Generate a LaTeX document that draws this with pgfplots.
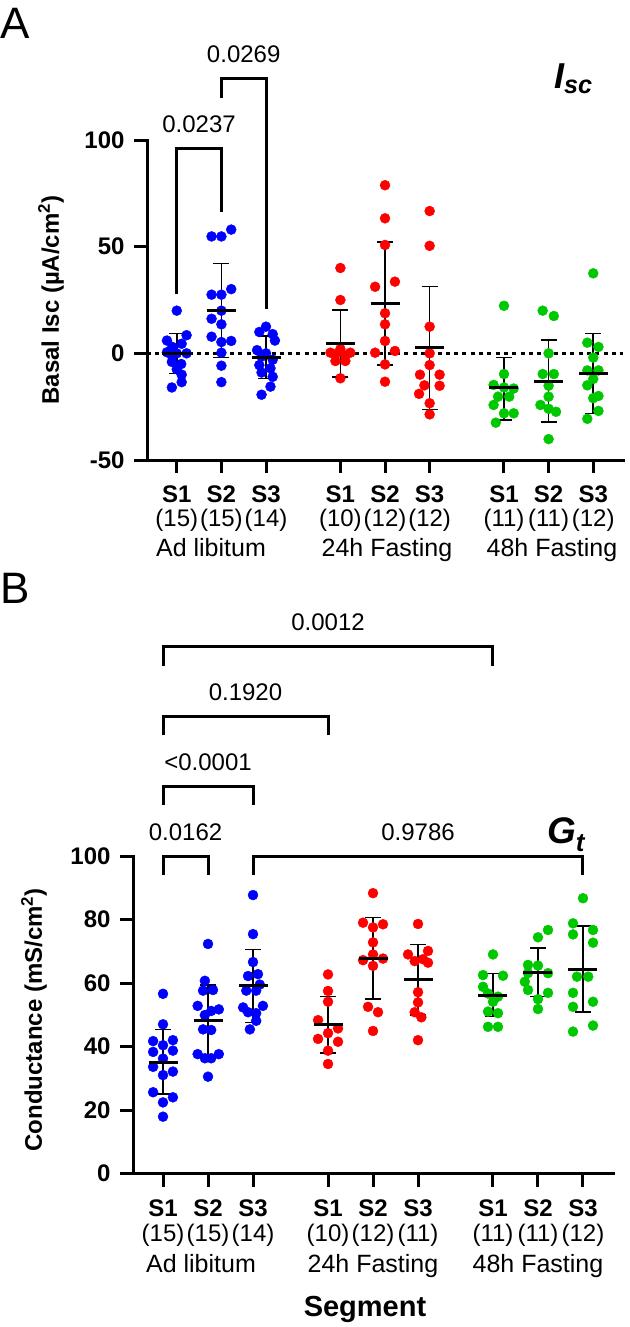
\documentclass[border=0pt]{standalone}
\usepackage{pgfplots}
\pgfplotsset{compat=1.18}
\usepackage{fontspec}
\setmainfont{Liberation Sans}
\definecolor{dblue}{RGB}{0,0,255}
\definecolor{dred}{RGB}{255,0,0}
\definecolor{dgreen}{RGB}{0,200,0}
\pgfplotsset{
  gp/.style={
    scale only axis,
    axis x line*=bottom, axis y line*=left,
    axis line style={-, line width=3pt, line cap=rect},
    xmin=0.333, xmax=11,
    xtick={1,2,3,4.667,5.667,6.667,8.333,9.333,10.333},
    tick align=outside,
    major tick length=13pt,
    every tick/.style={line width=3pt, black},
    tick label style={font=\fontsize{24}{24.5}\selectfont},
    xticklabel style={align=center},
    yticklabel style={font=\bfseries\fontsize{24}{23}\selectfont, xshift=-6pt},
    clip=false,
  },
  dots/.style={only marks, mark=*, mark size=5pt, mark options={draw=#1, fill=#1}},
  meanerr/.style={only marks, black, line width=3pt, mark=-, mark size=14.5pt,
    mark options={line width=3pt},
    error bars/.cd, y dir=both, y explicit,
    error bar style={line width=1.5pt, black},
    error mark options={rotate=90, mark size=8pt, line width=1.5pt, black}},
}
\begin{document}
\begin{tikzpicture}
\useasboundingbox (0pt,0pt) rectangle (629pt,-1327pt);

% ---------------- Panel A ----------------
\begin{axis}[gp, at={(147pt,-460pt)}, anchor=south west, width=476pt, height=320pt,
  ymin=-50, ymax=100, ytick={-50,0,50,100}, yticklabels={-50,0,50,100},
  xticklabel style={yshift=-9pt},
  xticklabels={{\textbf{S1}\\(15)},{\textbf{S2}\\(15)},{\textbf{S3}\\(14)},
               {\textbf{S1}\\(10)},{\textbf{S2}\\(12)},{\textbf{S3}\\(12)},
               {\textbf{S1}\\(11)},{\textbf{S2}\\(11)},{\textbf{S3}\\(12)}}]
\draw[line width=3pt, dash pattern=on 4pt off 4.3pt] (axis cs:0.333,0) -- (axis cs:11,0);
\addplot[dots=dblue] coordinates {
 (1,20) (1.22,8.5) (0.78,6) (1.11,4.5) (0.9,3) (0.78,0.5) (1.0,0) (1.22,0) (0.9,-1.5)
 (0.89,-4) (1.1,-5) (1.11,-10) (1.0,-7.5) (1.11,-13.5) (0.89,-16)
 (1.78,54.8) (2.0,54.8) (2.22,58) (1.78,27.5) (2.0,27.5) (2.22,30.1) (2.0,20) (1.78,16.2)
 (2.0,13.6) (1.78,7.8) (2.0,5.3) (2.22,5.8) (2.0,0.3) (2.0,-5.8) (2.0,-13.5)
 (3.0,12.5) (2.85,10) (3.15,9) (3.2,6) (2.8,1.5) (3.0,0) (2.9,-1.5) (3.15,-3) (2.85,-5.5)
 (3.1,-7) (2.9,-9) (3.15,-11) (3.1,-15.6) (2.9,-19.4)
};
\addplot[dots=dred] coordinates {
 (4.667,40) (4.667,25) (4.667,2) (4.445,0.3) (4.889,0.3) (4.556,-0.5) (4.778,-1)
 (4.556,-3.6) (4.778,-3.6) (4.667,-11.7)
 (5.667,78.8) (5.667,63.3) (5.667,50.8) (5.445,31.2) (5.889,33.6) (5.667,18.8) (5.667,13.6)
 (5.667,5.8) (5.445,0.3) (5.889,1.1) (5.667,-5.2) (5.667,-13.3)
 (6.667,66.7) (6.667,50.4) (6.667,12.5) (6.667,0) (6.667,-5.5) (6.45,-10) (6.89,-10)
 (6.89,-15.2) (6.43,-19) (6.667,-23.4) (6.667,-28.6) (6.55,-15)
};
\addplot[dots=dgreen] coordinates {
 (8.333,22.3) (8.333,-9.7) (8.1,-14.8) (8.55,-16.5) (8.2,-20.3) (8.45,-20.3) (8.1,-24.2)
 (8.333,-28.1) (8.55,-28.1) (8.15,-32.5) (8.333,-16)
 (9.2,20) (9.45,17.5) (9.333,0) (9.2,-9.7) (9.45,-9.7) (9.333,-15.2) (9.333,-20.3)
 (9.15,-24.2) (9.5,-27.4) (9.333,-26) (9.333,-40.2)
 (10.333,37.5) (10.2,5) (10.45,3) (10.333,-2) (10.2,-8) (10.45,-8) (10.333,-12)
 (10.2,-15) (10.45,-20) (10.333,-21) (10.45,-27) (10.2,-30.7)
};
\addplot[meanerr] coordinates {
 (1,0) += (0,9.4) -= (0,9.4)
 (2,20.3) += (0,21.9) -= (0,22.3)
 (3,-2) += (0,10.1) -= (0,9.7)
 (4.667,4.7) += (0,15.6) -= (0,15.7)
 (5.667,23.4) += (0,28.9) -= (0,28.9)
 (6.667,2.6) += (0,28.8) -= (0,28.9)
 (8.333,-16.1) += (0,14.2) -= (0,15.2)
 (9.333,-13) += (0,19.2) -= (0,19.3)
 (10.333,-9.5) += (0,18.8) -= (0,18.6)
};
\draw[line width=3pt, line join=miter] (axis cs:1,28) |- (axis cs:2,96.1) -- (axis cs:2,66.4);
\draw[line width=3pt, line join=miter] (axis cs:2,119.5) |- (axis cs:3,128.9) -- (axis cs:3,20.8);
\node[anchor=base, yshift=16pt, font=\fontsize{24}{24}\selectfont] at (axis cs:1.5,96.1) {0.0237};
\node[anchor=base, yshift=16pt, font=\fontsize{24}{24}\selectfont] at (axis cs:2.5,128.9) {0.0269};
\end{axis}

% ---------------- Panel B ----------------
\begin{axis}[gp, at={(133pt,-1173.5pt)}, anchor=south west, width=480pt, height=317.5pt,
  ymin=0, ymax=100, ytick={0,20,40,60,80,100}, yticklabels={0,20,40,60,80,100},
  xticklabel style={yshift=-10pt},
  xticklabels={{\textbf{S1}\\(15)},{\textbf{S2}\\(15)},{\textbf{S3}\\(14)},
               {\textbf{S1}\\(10)},{\textbf{S2}\\(12)},{\textbf{S3}\\(11)},
               {\textbf{S1}\\(11)},{\textbf{S2}\\(11)},{\textbf{S3}\\(12)}}]
\addplot[dots=dblue] coordinates {
 (1,56.6) (1,47) (0.78,41.7) (1.22,42) (1,40.4) (0.78,38.3) (1.22,38.7) (1,36.2)
 (0.78,33.6) (1.22,32.1) (1,31) (0.78,25.6) (1.22,24) (1,22.4) (1,17.9)
 (2,72.3) (1.93,60.7) (2.11,57.8) (1.89,57.6) (1.77,52.8) (2.24,51.7) (2.07,51.2) (1.93,49.9)
 (2.07,45.2) (1.89,45.4) (1.77,37.6) (2.24,37.6) (1.93,36.3) (2.07,36.3) (2,30.5)
 (3,87.7) (3,75.4) (3,66.6) (2.89,62.2) (3.11,62.8) (3.15,59.5) (2.85,57.6) (3.07,57.6)
 (2.78,52.3) (3.22,52.8) (2.89,50.8) (3.07,50.5) (3.07,48.1) (2.93,45.4)
};
\addplot[dots=dred] coordinates {
 (4.667,62.7) (4.667,57.5) (4.667,54.1) (4.445,48.3) (4.889,45.7) (4.667,44.2) (4.445,42.4)
 (4.889,41.5) (4.667,38.7) (4.667,34.5)
 (5.667,88.3) (5.445,79) (5.889,78.5) (5.667,77.5) (5.667,72.8) (5.667,69) (5.445,67.2)
 (5.889,67.7) (5.667,65.4) (5.556,52.5) (5.778,50.8) (5.667,44.9)
 (6.667,78.6) (6.445,69) (6.889,70.1) (6.593,66.9) (6.778,67.5) (6.889,66.4) (6.667,57.1)
 (6.667,53.9) (6.593,50.8) (6.741,49.2) (6.667,42)
};
\addplot[dots=dgreen] coordinates {
 (8.333,69) (8.111,62.5) (8.556,62.3) (8.111,58.8) (8.222,56.7) (8.444,55.7) (8.333,54.1)
 (8.222,51) (8.444,50.5) (8.222,46.2) (8.444,46.2)
 (9.556,76.7) (9.333,74.4) (9.111,65.7) (9.333,65.5) (9.111,63.1) (9.556,63.1) (9.04,60.4)
 (9.111,57.8) (9.556,56.9) (9.333,54.9) (9.333,51.8)
 (10.333,86.7) (10.111,78.8) (10.556,76.7) (10.111,75.3) (10.556,72.7) (10.2,62) (10.45,62)
 (10.111,56.9) (10.556,54.1) (10.111,52.5) (10.111,44.7) (10.556,46.6)
};
\addplot[meanerr] coordinates {
 (1,35.1) += (0,10.2) -= (0,10.1)
 (2,48.1) += (0,11.3) -= (0,11.1)
 (3,59.2) += (0,11.4) -= (0,11.6)
 (4.667,47) += (0,8.7) -= (0,9)
 (5.667,67.8) += (0,12.9) -= (0,12.8)
 (6.667,61.2) += (0,11) -= (0,11.3)
 (8.333,56.2) += (0,6.8) -= (0,6.8)
 (9.333,63.4) += (0,7.7) -= (0,7.7)
 (10.333,64.1) += (0,13.9) -= (0,13.3)
};
\draw[line width=3pt, line join=miter] (axis cs:1,94) |- (axis cs:2,100) -- (axis cs:2,94);
\draw[line width=3pt, line join=miter] (axis cs:3,94) |- (axis cs:10.333,100) -- (axis cs:10.333,94);
\draw[line width=3pt, line join=miter] (axis cs:1,116) |- (axis cs:3,122) -- (axis cs:3,116);
\draw[line width=3pt, line join=miter] (axis cs:1,138) |- (axis cs:4.667,144) -- (axis cs:4.667,138);
\draw[line width=3pt, line join=miter] (axis cs:1,160) |- (axis cs:8.333,166) -- (axis cs:8.333,160);
\node[anchor=base, yshift=16pt, font=\fontsize{24}{24}\selectfont] at (axis cs:1.5,100) {0.0162};
\node[anchor=base, yshift=16pt, font=\fontsize{24}{24}\selectfont] at (axis cs:6.667,100) {0.9786};
\node[anchor=base, yshift=16pt, font=\fontsize{24}{24}\selectfont] at (axis cs:2,122) {<0.0001};
\node[anchor=base, yshift=16pt, font=\fontsize{24}{24}\selectfont] at (axis cs:2.833,144) {0.1920};
\node[anchor=base, yshift=16pt, font=\fontsize{24}{24}\selectfont] at (axis cs:4.667,166) {0.0012};
\end{axis}

% ---------------- Text ----------------
\node[anchor=base west, inner sep=0pt, font=\fontsize{44}{44}\selectfont] at (0pt,-39pt) {A};
\node[anchor=base west, inner sep=0pt, font=\fontsize{44}{44}\selectfont] at (0pt,-603pt) {B};
\node[anchor=base west, inner sep=0pt, font=\bfseries\itshape\fontsize{36}{36}\selectfont] at (554pt,-89pt) {I\textsubscript{sc}};
\node[anchor=base west, inner sep=0pt, font=\bfseries\itshape\fontsize{37}{37}\selectfont] at (547pt,-843pt) {G\textsubscript{t}};
\node[rotate=90, font=\bfseries\fontsize{24}{24}\selectfont] at (51pt,-300pt) {Basal Isc (µA/cm\textsuperscript{2})};
\node[rotate=90, font=\bfseries\fontsize{24}{24}\selectfont] at (34pt,-1020pt) {Conductance (mS/cm\textsuperscript{2})};
\node[anchor=base, font=\fontsize{25}{25}\selectfont] at (211pt,-556pt) {Ad libitum};
\node[anchor=base, font=\fontsize{25}{25}\selectfont] at (387pt,-556pt) {24h Fasting};
\node[anchor=base, font=\fontsize{25}{25}\selectfont] at (552pt,-556pt) {48h Fasting};
\node[anchor=base, font=\fontsize{25}{25}\selectfont] at (201pt,-1272pt) {Ad libitum};
\node[anchor=base, font=\fontsize{25}{25}\selectfont] at (373pt,-1272pt) {24h Fasting};
\node[anchor=base, font=\fontsize{25}{25}\selectfont] at (538pt,-1272pt) {48h Fasting};
\node[anchor=base, font=\bfseries\fontsize{29}{29}\selectfont] at (365pt,-1316pt) {Segment};
\end{tikzpicture}
\end{document}
